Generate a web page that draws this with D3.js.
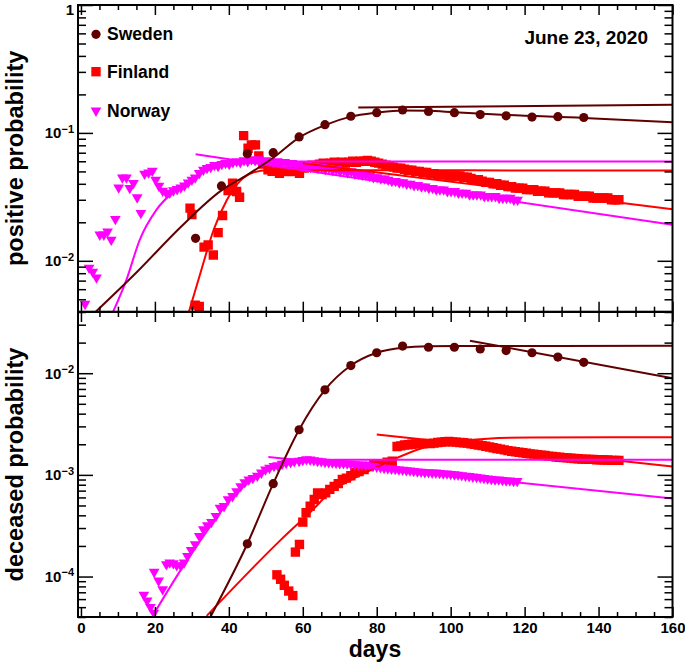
<!DOCTYPE html>
<html>
<head>
<meta charset="utf-8">
<script src="https://cdn.jsdelivr.net/npm/d3@7"></script>
<style>
body { margin: 0; background: #fff; }
svg { display: block; font-family: "Liberation Sans", Arial, Helvetica, sans-serif; font-weight: bold; }
</style>
</head>
<body>
<svg width="685" height="664"></svg>
<script>
// ---- data ----
var countries = ["Sweden", "Finland", "Norway"];
var dateLabel = "June 23, 2020";
var xTicks = [0, 20, 40, 60, 80, 100, 120, 140, 160];

// Sweden: one point a week
var swedenPosDays = [31, 38, 45, 52, 59, 66, 73, 80, 87, 94, 101, 108, 115, 122, 129, 136];
var swedenPos = [0.0150, 0.0385, 0.0686, 0.0700, 0.093, 0.116, 0.135, 0.144, 0.151, 0.147, 0.144, 0.139, 0.136, 0.133, 0.134, 0.132];
var swedenDecDays = [45, 52, 59, 66, 73, 80, 87, 94, 101, 108, 115, 122, 129, 136];
var swedenDec = [2.1e-4, 8.2e-4, 2.78e-3, 6.86e-3, 0.0119, 0.0159, 0.0185, 0.0180, 0.0180, 0.0173, 0.0167, 0.0159, 0.0144, 0.0128];

// Finland, positive: early scattered points, then daily from day 61.5
var finlandPosEarly = [[29.5,0.0258],[30.0,0.0230],[30.9,0.0045],[32.0,0.0044],[33.3,0.0128],[34.4,0.0133],[35.8,0.0111],[37.1,0.0166],[38.3,0.0226],[39.8,0.0354],[41.0,0.0405],[42.1,0.0348],[42.9,0.0314],[44.0,0.0953],[45.2,0.0759],[46.1,0.0806],[47.2,0.0806],[48.1,0.066],[49.2,0.057],[50.6,0.0514],[51.7,0.050],[52.8,0.052],[53.7,0.0484],[55.0,0.050],[56.4,0.0499],[57.7,0.050],[59.1,0.0484],[60.4,0.053]];
var finlandPosStart = 61.5;
var finlandPosDaily = [0.054,0.056,0.055,0.057,0.058,0.057,0.058,0.059,0.058,0.059,
  0.058,0.059,0.060,0.059,0.060,0.060,0.061,0.060,0.059,0.058,
  0.057,0.056,0.055,0.054,0.053,0.053,0.052,0.051,0.051,0.050,
  0.050,0.049,0.049,0.048,0.048,0.047,0.047,0.047,0.046,0.046,
  0.046,0.046,0.045,0.045,0.044,0.043,0.043,0.042,0.041,0.041,
  0.040,0.040,0.039,0.039,0.038,0.038,0.037,0.037,0.037,0.036,
  0.036,0.036,0.035,0.035,0.035,0.034,0.034,0.034,0.034,0.033,
  0.033,0.033,0.033,0.032,0.032,0.032,0.032,0.031,0.031,0.031,
  0.031,0.031,0.030,0.030,0.030];

// Finland, deceased
var finlandDecEarly = [[53.0,1.04e-4],[54.0,9.4e-5],[55.0,8.2e-5],[56.2,7.2e-5],[57.3,6.5e-5],[58.0,1.74e-4],[59.1,2.07e-4],[60.0,3.43e-4],[60.9,4.24e-4],[62.0,4.92e-4],[63.1,5.73e-4],[64.0,6.66e-4],[65.2,6.4e-4],[66.2,6.66e-4],[67.3,7.2e-4],[68.5,7.7e-4],[69.6,8.2e-4],[70.7,9.0e-4],[71.8,9.3e-4],[73.0,9.8e-4],[74.1,1.05e-3],[75.2,1.08e-3],[76.6,1.13e-3],[77.9,1.21e-3],[79.2,1.26e-3],[81.0,1.29e-3],[82.8,1.33e-3],[84.2,1.36e-3]];
var finlandDecStart = 85.5;
var finlandDecDaily = [1.90e-3,1.93e-3,1.97e-3,1.98e-3,2.00e-3,2.02e-3,2.03e-3,2.02e-3,2.04e-3,2.03e-3,
  2.05e-3,2.08e-3,2.10e-3,2.12e-3,2.13e-3,2.11e-3,2.10e-3,2.08e-3,2.07e-3,2.05e-3,
  2.02e-3,2.00e-3,1.97e-3,1.94e-3,1.91e-3,1.88e-3,1.85e-3,1.82e-3,1.79e-3,1.76e-3,
  1.73e-3,1.71e-3,1.69e-3,1.67e-3,1.65e-3,1.63e-3,1.61e-3,1.60e-3,1.58e-3,1.56e-3,
  1.55e-3,1.53e-3,1.52e-3,1.50e-3,1.49e-3,1.48e-3,1.47e-3,1.46e-3,1.45e-3,1.44e-3,
  1.43e-3,1.43e-3,1.42e-3,1.42e-3,1.41e-3,1.41e-3,1.40e-3,1.40e-3,1.39e-3,1.39e-3,1.39e-3];

// Norway, positive
var norwayPosEarly = [[1.1,0.0046],[2.2,0.0088],[3.2,0.0082],[4.2,0.0074],[5.1,0.016],[6.2,0.016],[7.2,0.0169],[8.2,0.0146],[9.3,0.0212],[10.2,0.0374],[11.2,0.0448],[12.3,0.0448],[13.2,0.037],[14.2,0.0405],[15.2,0.0313],[16.2,0.0236],[17.2,0.0478],[18.3,0.049],[19.3,0.0505],[20.2,0.043],[21.1,0.0385],[22.1,0.0352],[23.1,0.0338],[24.0,0.034],[25.0,0.0355],[26.0,0.0363],[27.0,0.0374],[28.0,0.0388],[29.0,0.0409],[30.0,0.043],[30.9,0.0448],[32.0,0.0484],[33.1,0.0514]];
var norwayPosStart = 34.1;
var norwayPosDaily = [0.053,0.054,0.056,0.055,0.057,0.058,0.057,0.059,0.060,0.059,
  0.061,0.060,0.062,0.061,0.062,0.060,0.061,0.060,0.059,0.060,
  0.058,0.059,0.057,0.058,0.056,0.057,0.055,0.056,0.054,0.055,
  0.053,0.054,0.052,0.053,0.051,0.052,0.050,0.051,0.049,0.050,
  0.048,0.048,0.047,0.047,0.046,0.045,0.045,0.044,0.044,0.043,
  0.042,0.042,0.041,0.041,0.040,0.040,0.039,0.039,0.038,0.038,
  0.037,0.037,0.036,0.036,0.036,0.035,0.035,0.035,0.034,0.034,
  0.034,0.033,0.033,0.033,0.033,0.032,0.032,0.032,0.032,0.031,
  0.031,0.031,0.031,0.030,0.030];

// Norway, deceased
var norwayDecEarly = [[17.0,6.6e-5],[17.9,5.8e-5],[18.8,5.0e-5],[19.7,4.4e-5],[19.8,1.11e-4],[21.0,9.1e-5],[22.1,7.5e-5],[23.1,1.32e-4],[24.0,1.37e-4],[25.0,1.35e-4],[25.9,1.29e-4],[27.0,1.28e-4],[27.9,1.37e-4],[28.8,1.59e-4],[29.8,1.82e-4],[30.9,2.07e-4],[32.0,2.50e-4],[33.1,2.91e-4],[34.2,3.19e-4],[35.3,3.43e-4],[36.5,3.93e-4],[37.6,4.74e-4],[38.7,4.92e-4],[39.8,5.73e-4],[41.0,6.17e-4],[42.1,6.9e-4],[43.2,7.7e-4],[44.3,8.45e-4],[45.4,9.0e-4],[46.5,9.3e-4],[47.7,9.8e-4],[48.8,1.05e-3],[49.9,1.13e-3],[51.0,1.17e-3],[52.2,1.22e-3],[53.2,1.24e-3],[54.4,1.28e-3],[55.5,1.31e-3],[56.7,1.33e-3],[57.7,1.36e-3]];
var norwayDecStart = 59;
var norwayDecDaily = [1.37e-3,1.40e-3,1.42e-3,1.41e-3,1.39e-3,1.37e-3,1.36e-3,1.34e-3,1.33e-3,1.32e-3,
  1.31e-3,1.30e-3,1.30e-3,1.29e-3,1.28e-3,1.27e-3,1.26e-3,1.26e-3,1.25e-3,1.23e-3,
  1.22e-3,1.20e-3,1.19e-3,1.17e-3,1.16e-3,1.15e-3,1.14e-3,1.13e-3,1.12e-3,1.11e-3,
  1.10e-3,1.09e-3,1.08e-3,1.07e-3,1.06e-3,1.06e-3,1.05e-3,1.05e-3,1.04e-3,1.03e-3,
  1.03e-3,1.02e-3,1.01e-3,1.00e-3,0.99e-3,0.98e-3,0.97e-3,0.96e-3,0.95e-3,0.94e-3,
  0.93e-3,0.92e-3,0.91e-3,0.90e-3,0.90e-3,0.89e-3,0.88e-3,0.88e-3,0.87e-3,0.87e-3];

// fitted curves, [day, value]
var swedenPosFitA = [[4,0.0040],[15,0.0081],[27,0.0184],[38,0.0355],[45,0.047],[52,0.064],[59,0.092],[66,0.115],[73,0.134],[80,0.144],[87,0.150],[94,0.149],[101,0.145],[115,0.138],[136,0.131],[160,0.121]];
var swedenPosFitB = [[75,0.158],[160,0.166]];
var finlandPosFitA = [[29.2,0.004],[32.3,0.008],[35.9,0.0175],[39.5,0.030],[43,0.042],[46.6,0.049],[50.5,0.051],[160,0.0508]];
var finlandPosFitB = [[60,0.058],[160,0.0253]];
var norwayPosFitA = [[8.7,0.004],[12.3,0.0071],[15.9,0.0146],[20.4,0.025],[25.7,0.0359],[30.5,0.045],[35.5,0.053],[40.5,0.0575],[45.5,0.0592],[52,0.0597],[160,0.0597]];
var norwayPosFitB = [[31,0.068],[160,0.0191]];

var swedenDecFitA = [[35,4.0e-5],[45,2.1e-4],[52,8.2e-4],[59,2.78e-3],[66,6.86e-3],[73,0.0119],[80,0.0159],[87,0.0178],[94,0.0184],[101,0.0185],[160,0.0186]];
var swedenDecFitB = [[105.2,0.0209],[160,0.00893]];
var finlandDecFitA = [[34,4.1e-5],[53.7,2.23e-4],[63.1,4.7e-4],[67.1,6.6e-4],[74.5,9.5e-4],[83.4,1.36e-3],[92.4,1.84e-3],[100,2.1e-3],[110,2.27e-3],[121.5,2.33e-3],[160,2.35e-3]];
var finlandDecFitB = [[80,2.5e-3],[160,1.21e-3]];
var norwayDecFitA = [[19.4,4.1e-5],[26.8,1.13e-4],[34.4,2.9e-4],[41.4,6.3e-4],[49.4,1.05e-3],[55.4,1.28e-3],[61.4,1.38e-3],[69.4,1.41e-3],[160,1.41e-3]];
var norwayDecFitB = [[50.7,1.5e-3],[160,5.86e-4]];

// ---- helpers ----
function pairs(days, vals) { return days.map(function(d, i) { return [d, vals[i]]; }); }
function daily(start, vals) { return vals.map(function(v, i) { return [start + i, v]; }); }

var colors = { Sweden: "#600000", Finland: "#ff0000", Norway: "#ff00ff" };

var svg = d3.select("svg");
var xLeft = 78, xRight = 672.5;
var x = d3.scaleLinear().domain([-0.8, 160]).range([xLeft, xRight]);

var panels = [
  { top: 5, bottom: 311.7, domain: [0.004, 1], title: "positive probability",
    points: { Sweden: pairs(swedenPosDays, swedenPos),
              Finland: finlandPosEarly.concat(daily(finlandPosStart, finlandPosDaily)),
              Norway: norwayPosEarly.concat(daily(norwayPosStart, norwayPosDaily)) },
    fits: { Sweden: [swedenPosFitA, swedenPosFitB], Finland: [finlandPosFitA, finlandPosFitB], Norway: [norwayPosFitA, norwayPosFitB] } },
  { top: 312, bottom: 617, domain: [4e-5, 0.04], title: "deceased probability",
    points: { Sweden: pairs(swedenDecDays, swedenDec),
              Finland: finlandDecEarly.concat(daily(finlandDecStart, finlandDecDaily)),
              Norway: norwayDecEarly.concat(daily(norwayDecStart, norwayDecDaily)) },
    fits: { Sweden: [swedenDecFitA, swedenDecFitB], Finland: [finlandDecFitA, finlandDecFitB], Norway: [norwayDecFitA, norwayDecFitB] } }
];

function marker(sel, country) {
  if (country == "Sweden") {
    sel.append("circle").attr("r", 4.6).attr("fill", colors.Sweden);
  } else if (country == "Finland") {
    sel.append("path").attr("d", d3.symbol(d3.symbolSquare).size(88)()).attr("fill", colors.Finland);
  } else {
    sel.append("path").attr("d", d3.symbol(d3.symbolTriangle).size(50)())
      .attr("transform", "rotate(180)").attr("fill", colors.Norway);
  }
}

function logLabel(t) {
  t.each(function(d) {
    var s = d3.select(this).text(null);
    var e = Math.round(Math.log10(d));
    if (e === 0) { s.attr("dy", "0.6em").text("1"); return; }
    s.append("tspan").text("10");
    s.append("tspan").attr("dy", "-0.5em").attr("font-size", "11px").text("\u2212" + (-e));
  });
}

var xMinor = d3.range(0, 161, 5).filter(function(d) { return d % 20 != 0; });

panels.forEach(function(p, pi) {
  var y = d3.scaleLog().domain(p.domain).range([p.bottom, p.top]);
  var majors = y.ticks().filter(function(d) { return Math.abs(Math.log10(d) - Math.round(Math.log10(d))) < 1e-6; });
  var minors = y.ticks().filter(function(d) { return majors.indexOf(d) < 0; });

  var clipId = "clip" + pi;
  svg.append("clipPath").attr("id", clipId).append("rect")
    .attr("x", xLeft).attr("y", p.top).attr("width", xRight - xLeft).attr("height", p.bottom - p.top);

  var plot = svg.append("g").attr("clip-path", "url(#" + clipId + ")");

  // markers first, fit lines on top
  ["Finland", "Norway", "Sweden"].forEach(function(c) {
    plot.append("g").selectAll("g")
      .data(p.points[c])
      .enter()
      .append("g")
      .attr("transform", function(d) { return "translate(" + x(d[0]) + "," + y(d[1]) + ")"; })
      .each(function() { marker(d3.select(this), c); });
  });

  var line = d3.line()
    .x(function(d) { return x(d[0]); })
    .y(function(d) { return y(d[1]); })
    .curve(d3.curveMonotoneX);

  ["Finland", "Norway", "Sweden"].forEach(function(c) {
    p.fits[c].forEach(function(f) {
      plot.append("path").attr("d", line(f)).attr("fill", "none")
        .attr("stroke", colors[c]).attr("stroke-width", 2);
    });
  });

  // axes, ticks pointing inward
  function clean(g) {
    g.select(".domain").remove();
    g.selectAll("line").attr("stroke-width", 1.5);
    g.attr("font-family", null).attr("font-size", 15);
  }
  svg.append("g").attr("transform", "translate(" + xLeft + ",0)")
    .call(d3.axisLeft(y).tickValues(minors).tickSize(-8).tickFormat("")).call(clean);
  svg.append("g").attr("transform", "translate(" + xLeft + ",0)")
    .call(d3.axisLeft(y).tickValues(majors).tickSize(-15).tickPadding(4)).call(clean)
    .selectAll("text").call(logLabel);
  svg.append("g").attr("transform", "translate(" + xRight + ",0)")
    .call(d3.axisRight(y).tickValues(minors).tickSize(-8).tickFormat("")).call(clean);
  svg.append("g").attr("transform", "translate(" + xRight + ",0)")
    .call(d3.axisRight(y).tickValues(majors).tickSize(-15).tickFormat("")).call(clean);

  svg.append("g").attr("transform", "translate(0," + p.top + ")")
    .call(d3.axisTop(x).tickValues(xMinor).tickSize(-5).tickFormat("")).call(clean);
  svg.append("g").attr("transform", "translate(0," + p.top + ")")
    .call(d3.axisTop(x).tickValues(xTicks).tickSize(-10).tickFormat("")).call(clean);
  svg.append("g").attr("transform", "translate(0," + p.bottom + ")")
    .call(d3.axisBottom(x).tickValues(xMinor).tickSize(-5).tickFormat("")).call(clean);
  svg.append("g").attr("transform", "translate(0," + p.bottom + ")")
    .call(d3.axisBottom(x).tickValues(xTicks).tickSize(-10).tickPadding(5)
      .tickFormat(pi == 1 ? d3.format("d") : "")).call(clean);

  svg.append("rect")
    .attr("x", xLeft).attr("y", p.top)
    .attr("width", xRight - xLeft).attr("height", p.bottom - p.top)
    .attr("fill", "none").attr("stroke", "#000").attr("stroke-width", 2);

  svg.append("text")
    .attr("transform", "translate(23," + (p.top + p.bottom) / 2 + ") rotate(-90)")
    .attr("text-anchor", "middle")
    .attr("font-size", 23.5)
    .text(p.title);
});

// legend
countries.forEach(function(c, i) {
  var ly = [34.3, 71.7, 110.7][i];
  var g = svg.append("g").attr("transform", "translate(96," + ly + ")");
  marker(g, c);
  svg.append("text").attr("x", 107).attr("y", ly + 6).attr("font-size", 17.5).text(c);
});

svg.append("text").attr("x", 648).attr("y", 44).attr("text-anchor", "end")
  .attr("font-size", 19).text(dateLabel);

svg.append("text").attr("x", 375).attr("y", 657).attr("text-anchor", "middle")
  .attr("font-size", 23).text("days");
</script>
</body>
</html>
